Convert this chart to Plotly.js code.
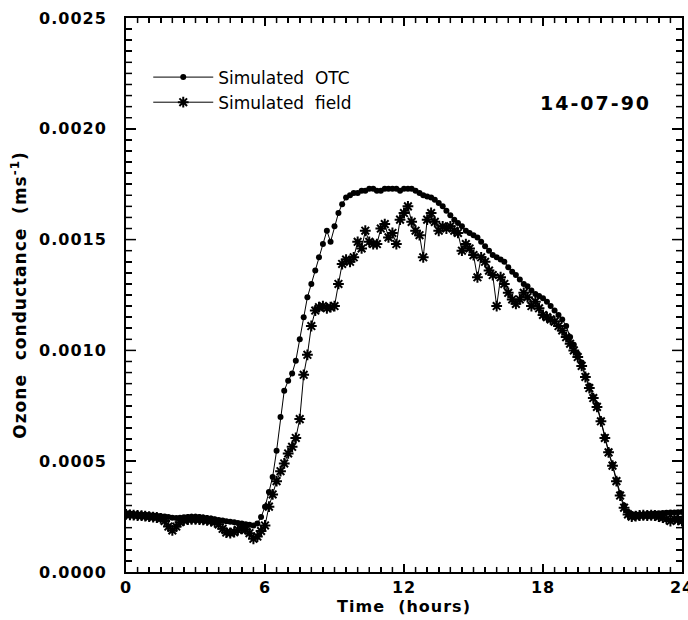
<!DOCTYPE html>
<html>
<head>
<meta charset="utf-8">
<script src="https://cdn.plot.ly/plotly-3.0.1.min.js"></script>
<style>
html,body{margin:0;padding:0;background:#fff;}
#chart{width:688px;height:620px;}
#chart .xtick text, #chart .ytick text { letter-spacing: 1px; }
#chart .annotation-text { letter-spacing: 2px; }
#chart .xtitle, #chart .ytitle { letter-spacing: 1px; }
</style>
</head>
<body>
<div id="chart"></div>
<script>
// Time (hours), 10-minute steps
const timeHours = [
 0.00,0.17,0.33,0.50,0.67,0.83,1.00,1.17,1.33,1.50,1.67,1.83,
 2.00,2.17,2.33,2.50,2.67,2.83,3.00,3.17,3.33,3.50,3.67,3.83,
 4.00,4.17,4.33,4.50,4.67,4.83,5.00,5.17,5.33,5.50,5.67,5.83,
 6.00,6.17,6.33,6.50,6.67,6.83,7.00,7.17,7.33,7.50,7.67,7.83,
 8.00,8.17,8.33,8.50,8.67,8.83,9.00,9.17,9.33,9.50,9.67,9.83,
 10.00,10.17,10.33,10.50,10.67,10.83,11.00,11.17,11.33,11.50,11.67,11.83,
 12.00,12.17,12.33,12.50,12.67,12.83,13.00,13.17,13.33,13.50,13.67,13.83,
 14.00,14.17,14.33,14.50,14.67,14.83,15.00,15.17,15.33,15.50,15.67,15.83,
 16.00,16.17,16.33,16.50,16.67,16.83,17.00,17.17,17.33,17.50,17.67,17.83,
 18.00,18.17,18.33,18.50,18.67,18.83,19.00,19.17,19.33,19.50,19.67,19.83,
 20.00,20.17,20.33,20.50,20.67,20.83,21.00,21.17,21.33,21.50,21.67,21.83,
 22.00,22.17,22.33,22.50,22.67,22.83,23.00,23.17,23.33,23.50,23.67,23.83,
 24.00
];

// Simulated OTC ozone conductance (m s-1)
const simulatedOTC = [
 2.65e-4,2.64e-4,2.62e-4,2.61e-4,2.60e-4,2.58e-4,2.57e-4,2.55e-4,2.54e-4,2.52e-4,2.50e-4,2.48e-4,
 2.45e-4,2.44e-4,2.45e-4,2.47e-4,2.48e-4,2.49e-4,2.49e-4,2.48e-4,2.46e-4,2.44e-4,2.41e-4,2.38e-4,
 2.35e-4,2.32e-4,2.29e-4,2.27e-4,2.24e-4,2.21e-4,2.19e-4,2.16e-4,2.13e-4,2.10e-4,2.19e-4,2.48e-4,
 2.94e-4,3.61e-4,4.29e-4,5.47e-4,7.00e-4,8.18e-4,8.63e-4,8.96e-4,9.53e-4,10.5e-4,11.5e-4,12.4e-4,
 13.0e-4,13.6e-4,14.2e-4,14.8e-4,15.4e-4,14.9e-4,15.6e-4,16.2e-4,16.6e-4,16.9e-4,17.0e-4,17.1e-4,
 17.1e-4,17.2e-4,17.2e-4,17.3e-4,17.3e-4,17.2e-4,17.2e-4,17.3e-4,17.3e-4,17.3e-4,17.3e-4,17.2e-4,
 17.3e-4,17.3e-4,17.3e-4,17.2e-4,17.1e-4,17.0e-4,16.95e-4,16.9e-4,16.8e-4,16.65e-4,16.5e-4,16.3e-4,
 16.1e-4,15.9e-4,15.75e-4,15.6e-4,15.4e-4,15.3e-4,15.2e-4,15.1e-4,14.9e-4,14.7e-4,14.5e-4,14.3e-4,
 14.2e-4,14.1e-4,14.0e-4,13.75e-4,13.55e-4,13.4e-4,13.2e-4,13.0e-4,12.9e-4,12.7e-4,12.55e-4,12.45e-4,
 12.35e-4,12.2e-4,12.0e-4,11.8e-4,11.6e-4,11.4e-4,11.1e-4,10.6e-4,10.25e-4,9.85e-4,9.45e-4,8.85e-4,
 8.4e-4,7.9e-4,7.55e-4,6.85e-4,6.1e-4,5.45e-4,4.85e-4,4.15e-4,3.55e-4,3.0e-4,2.72e-4,2.62e-4,
 2.60e-4,2.58e-4,2.60e-4,2.62e-4,2.63e-4,2.64e-4,2.65e-4,2.66e-4,2.67e-4,2.68e-4,2.69e-4,2.70e-4,
 2.71e-4
];

// Simulated field ozone conductance (m s-1)
const simulatedField = [
 2.60e-4,2.58e-4,2.57e-4,2.55e-4,2.54e-4,2.52e-4,2.50e-4,2.48e-4,2.46e-4,2.42e-4,2.30e-4,2.05e-4,
 1.88e-4,2.05e-4,2.25e-4,2.33e-4,2.37e-4,2.38e-4,2.38e-4,2.37e-4,2.35e-4,2.33e-4,2.30e-4,2.25e-4,
 2.15e-4,1.95e-4,1.78e-4,1.76e-4,1.80e-4,1.90e-4,1.95e-4,1.92e-4,1.75e-4,1.50e-4,1.60e-4,1.85e-4,
 2.10e-4,2.95e-4,3.50e-4,4.10e-4,4.55e-4,4.90e-4,5.35e-4,5.65e-4,6.05e-4,6.90e-4,8.90e-4,9.80e-4,
 11.1e-4,11.8e-4,11.95e-4,12.0e-4,11.9e-4,11.95e-4,12.0e-4,13.0e-4,13.9e-4,14.1e-4,14.0e-4,14.2e-4,
 14.9e-4,14.6e-4,15.4e-4,14.9e-4,14.8e-4,14.8e-4,15.5e-4,15.7e-4,15.1e-4,15.3e-4,14.8e-4,15.9e-4,
 16.2e-4,16.5e-4,15.8e-4,15.4e-4,15.2e-4,14.2e-4,15.9e-4,16.2e-4,15.8e-4,15.4e-4,15.6e-4,15.5e-4,
 15.6e-4,15.4e-4,15.3e-4,14.5e-4,14.8e-4,14.6e-4,14.3e-4,13.3e-4,14.2e-4,14.0e-4,13.6e-4,13.4e-4,
 12.0e-4,13.3e-4,13.0e-4,12.6e-4,12.3e-4,12.1e-4,12.3e-4,12.6e-4,12.4e-4,12.0e-4,12.2e-4,11.9e-4,
 11.6e-4,11.5e-4,11.4e-4,11.3e-4,11.1e-4,10.9e-4,10.6e-4,10.3e-4,10.0e-4,9.7e-4,9.3e-4,8.8e-4,
 8.3e-4,7.85e-4,7.45e-4,6.8e-4,6.05e-4,5.4e-4,4.8e-4,4.1e-4,3.45e-4,2.9e-4,2.6e-4,2.5e-4,
 2.52e-4,2.55e-4,2.56e-4,2.55e-4,2.56e-4,2.55e-4,2.50e-4,2.45e-4,2.40e-4,2.30e-4,2.40e-4,2.35e-4,
 2.30e-4
];

const seriesNames = ['Simulated  OTC', 'Simulated  field'];
const dateLabel = '14-07-90';

const FONT = 'DejaVu Sans, Liberation Sans, sans-serif';

// axis settings
const X_RANGE = [0, 24], X_MAJOR = 6, X_MINOR = 0.5;
const Y_RANGE = [0, 0.0025], Y_MAJOR = 0.0005, Y_MINOR = 0.00005;

const dataTraces = [
  {
    x: timeHours, y: simulatedOTC, name: seriesNames[0],
    type: 'scatter', mode: 'lines+markers',
    line: {color: '#000', width: 1},
    marker: {symbol: 'circle', size: 6, color: '#000'}
  },
  {
    x: timeHours, y: simulatedField, name: seriesNames[1],
    type: 'scatter', mode: 'lines+markers',
    line: {color: '#000', width: 1},
    marker: {symbol: 'asterisk-open', size: 9, color: '#000', line: {color: '#000', width: 2}}
  }
];

// Inward tick marks on all four frame sides: short line markers centred on the
// frame edges (the half outside is clipped by the plot area), at the axis tick values.
function tickTraces() {
  const xMaj = {x: [], y: []}, xMin = {x: [], y: []};
  const nx = Math.round((X_RANGE[1] - X_RANGE[0]) / X_MINOR);
  const perX = Math.round(X_MAJOR / X_MINOR);
  for (let k = 1; k < nx; k++) {
    const xv = X_RANGE[0] + k * X_MINOR;
    const t = (k % perX === 0) ? xMaj : xMin;
    t.x.push(xv, xv); t.y.push(Y_RANGE[0], Y_RANGE[1]);
  }
  const yMaj = {x: [], y: []}, yMin = {x: [], y: []};
  const ny = Math.round((Y_RANGE[1] - Y_RANGE[0]) / Y_MINOR);
  const perY = Math.round(Y_MAJOR / Y_MINOR);
  for (let k = 1; k < ny; k++) {
    const yv = Y_RANGE[0] + k * Y_MINOR;
    const t = (k % perY === 0) ? yMaj : yMin;
    t.x.push(X_RANGE[0], X_RANGE[1]); t.y.push(yv, yv);
  }
  const mk = (pts, sym, size) => ({
    x: pts.x, y: pts.y, type: 'scatter', mode: 'markers', showlegend: false,
    hoverinfo: 'skip', cliponaxis: true,
    marker: {symbol: sym, size: size, color: '#000', line: {color: '#000', width: 1.5}}
  });
  return [
    mk(xMaj, 'line-ns-open', 11.5),
    mk(xMin, 'line-ns-open', 7.2),
    mk(yMaj, 'line-ew-open', 14.2),
    mk(yMin, 'line-ew-open', 8.6)
  ];
}

const commonAxis = {showline: true, linecolor: '#000', linewidth: 2, mirror: 'allticks', showgrid: false, zeroline: false};

const layout = {
  width: 688, height: 620,
  margin: {l: 126, r: 6, t: 18, b: 48},
  paper_bgcolor: '#fff', plot_bgcolor: '#fff',
  font: {family: FONT, color: '#000', size: 15},
  showlegend: true,
  legend: {
    x: 0.04, y: 0.925, xanchor: 'left', yanchor: 'top',
    bgcolor: 'rgba(0,0,0,0)', borderwidth: 0,
    font: {family: FONT, size: 17, color: '#000'},
    itemwidth: 60, tracegroupgap: 0
  },
  xaxis: Object.assign({}, commonAxis, {
    range: X_RANGE, dtick: X_MAJOR, tick0: 0,
    ticks: 'inside', ticklen: 8, tickwidth: 1.5, tickcolor: '#000',
    minor: {ticks: 'inside', dtick: X_MINOR, ticklen: 5, tickwidth: 1.5, tickcolor: '#000'},
    ticklabeloverflow: 'allow',
    tickfont: {family: FONT, size: 16, color: '#000', weight: 'bold'},
    title: {text: 'Time  (hours)', font: {family: FONT, size: 16, color: '#000', weight: 'bold'}, standoff: 2}
  }),
  yaxis: Object.assign({}, commonAxis, {
    range: Y_RANGE, dtick: Y_MAJOR, tick0: 0, tickformat: '.4f',
    ticks: 'inside', ticklen: 10, tickwidth: 1.5, tickcolor: '#000',
    minor: {ticks: 'inside', dtick: Y_MINOR, ticklen: 6, tickwidth: 1.5, tickcolor: '#000'},
    tickfont: {family: FONT, size: 16, color: '#000', weight: 'bold'},
    ticklabelstandoff: 14,
    title: {text: 'Ozone  conductance  (ms<sup>-1</sup>)', font: {family: FONT, size: 17, color: '#000', weight: 'bold'}, standoff: 14}
  }),
  annotations: [
    {text: dateLabel, xref: 'paper', yref: 'paper', x: 0.845, y: 0.847,
     xanchor: 'center', yanchor: 'middle', showarrow: false,
     font: {family: FONT, size: 19, color: '#000', weight: 'bold'}}
  ]
};

Plotly.newPlot('chart', dataTraces.concat(tickTraces()), layout, {displayModeBar: false, staticPlot: true});
</script>
</body>
</html>
